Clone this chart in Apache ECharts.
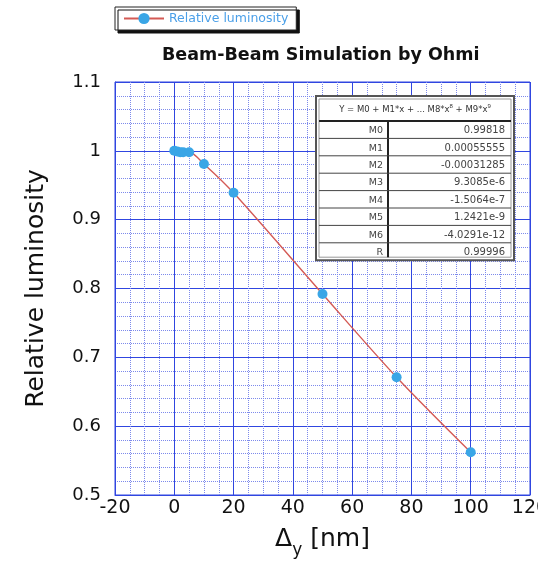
<!DOCTYPE html>
<html>
<head>
<meta charset="utf-8">
<script src="https://cdn.jsdelivr.net/npm/echarts@6/dist/echarts.min.js"></script>
<style>
  html, body { margin: 0; padding: 0; background: #fff; }
  #main { width: 538px; height: 570px; }
</style>
</head>
<body>
<div id="main"></div>
<script>
  // measured points (delta_y in nm, relative luminosity)
  var deltaY = [0, 1, 2, 3, 5, 10, 20, 50, 75, 100];
  var luminosity = [1.0, 0.999, 0.998, 0.998, 0.998, 0.981, 0.939, 0.792, 0.671, 0.562];

  // fit parameter table
  var fitHeader = 'Y = M0 + M1*x + ... M8*x{sup|8} + M9*x{sup|9}';
  var paramNames = ['M0', 'M1', 'M2', 'M3', 'M4', 'M5', 'M6', 'R'];
  var paramValues = ['0.99818', '0.00055555', '-0.00031285', '9.3085e-6', '-1.5064e-7', '1.2421e-9', '-4.0291e-12', '0.99996'];

  var FONT = 'DejaVu Sans';
  var BLUE = '#3046e0';
  var MINOR = '#7d8aec';

  function buildTable() {
    var x0 = 316, y0 = 96, w = 198, headH = 25, rowH = 17.4, colX = 388;
    var h = headH + rowH * paramNames.length;
    var els = [];
    els.push({ type: 'rect', shape: { x: x0, y: y0, width: w, height: h },
      style: { fill: '#fff', stroke: '#555', lineWidth: 2 }, z: 10 });
    els.push({ type: 'rect', shape: { x: x0 + 3, y: y0 + 3, width: w - 6, height: h - 6 },
      style: { fill: 'none', stroke: '#999', lineWidth: 1 }, z: 10 });
    els.push({ type: 'text', x: x0 + w / 2, y: y0 + headH / 2 + 1, z: 11,
      style: { text: fitHeader, align: 'center', verticalAlign: 'middle', fill: '#333',
        font: '8.5px ' + FONT, rich: { sup: { fontSize: 6, padding: [0, 0, 7, 0], fill: '#333' } } } });
    els.push({ type: 'line', shape: { x1: x0 + 3, y1: y0 + headH, x2: x0 + w - 3, y2: y0 + headH },
      style: { stroke: '#222', lineWidth: 2 }, z: 11 });
    els.push({ type: 'line', shape: { x1: colX, y1: y0 + headH, x2: colX, y2: y0 + h - 3 },
      style: { stroke: '#222', lineWidth: 2 }, z: 11 });
    for (var i = 0; i < paramNames.length; i++) {
      var ry = y0 + headH + rowH * i;
      if (i > 0) {
        els.push({ type: 'line', shape: { x1: x0 + 3, y1: ry, x2: x0 + w - 3, y2: ry },
          style: { stroke: '#444', lineWidth: 1 }, z: 11 });
      }
      els.push({ type: 'text', x: colX - 5, y: ry + rowH / 2 + 1, z: 12,
        style: { text: paramNames[i], align: 'right', verticalAlign: 'middle', fill: '#444', font: '9.5px ' + FONT } });
      els.push({ type: 'text', x: x0 + w - 9, y: ry + rowH / 2 + 1, z: 12,
        style: { text: paramValues[i], align: 'right', verticalAlign: 'middle', fill: '#444', font: '10px ' + FONT } });
    }
    return els;
  }

  var chart = echarts.init(document.getElementById('main'));
  var option = {
    animation: false,
    backgroundColor: '#fff',
    title: {
      text: 'Beam-Beam Simulation by Ohmi',
      left: 162, top: 46, padding: 0,
      textStyle: { fontFamily: FONT, fontSize: 17.5, fontWeight: 'bold', color: '#111' }
    },
    legend: {
      left: 115, top: 7,
      padding: [5, 8],
      itemWidth: 40, itemHeight: 14,
      backgroundColor: '#fff',
      borderColor: '#222', borderWidth: 1,
      shadowColor: '#111', shadowBlur: 0, shadowOffsetX: 3, shadowOffsetY: 3,
      textStyle: { fontFamily: FONT, fontSize: 12.5, color: '#4a9fe8' },
      data: ['Relative luminosity']
    },
    grid: {
      left: 115, right: 8, top: 82, bottom: 75,
      containLabel: false, outerBoundsMode: 'none',
      show: true, borderColor: BLUE, borderWidth: 1
    },
    xAxis: {
      type: 'value', min: -20, max: 120, interval: 20,
      name: '{d|Δ}{s|y} [nm]',
      nameLocation: 'middle', nameGap: 25,
      nameTextStyle: {
        fontFamily: FONT, fontSize: 25, color: '#111',
        rich: {
          d: { fontFamily: FONT, fontSize: 25, color: '#111' },
          s: { fontFamily: FONT, fontSize: 17, color: '#111', padding: [22, 0, 0, 0] }
        }
      },
      axisLine: { onZero: false, lineStyle: { color: BLUE } },
      axisTick: { show: false },
      axisLabel: { fontFamily: FONT, fontSize: 19, color: '#111', margin: 4 },
      splitLine: { show: true, lineStyle: { color: BLUE, width: 1 } },
      minorTick: { show: false, splitNumber: 4 },
      minorSplitLine: { show: true, lineStyle: { color: MINOR, type: [1, 1], width: 1 } }
    },
    yAxis: {
      type: 'value', min: 0.5, max: 1.1, interval: 0.1,
      name: 'Relative luminosity',
      nameLocation: 'middle', nameGap: 66,
      nameTextStyle: { fontFamily: FONT, fontSize: 25, color: '#111' },
      axisLine: { show: true, onZero: false, lineStyle: { color: BLUE } },
      axisTick: { show: false },
      axisLabel: {
        fontFamily: FONT, fontSize: 18, color: '#111', margin: 14,
        formatter: function (v) { return String(Math.round(v * 10) / 10); }
      },
      splitLine: { show: true, lineStyle: { color: BLUE, width: 1 } },
      minorTick: { show: false, splitNumber: 5 },
      minorSplitLine: { show: true, lineStyle: { color: MINOR, type: [1, 1], width: 1 } }
    },
    series: [{
      name: 'Relative luminosity',
      type: 'line',
      smooth: 0.3,
      data: deltaY.map(function (x, i) { return [x, luminosity[i]]; }),
      symbol: 'circle', symbolSize: 10,
      itemStyle: { color: '#3aa6e6' },
      lineStyle: { color: '#d45a55', width: 1.4 },
      z: 5
    }],
    graphic: buildTable()
  };
  chart.setOption(option);
</script>
</body>
</html>
